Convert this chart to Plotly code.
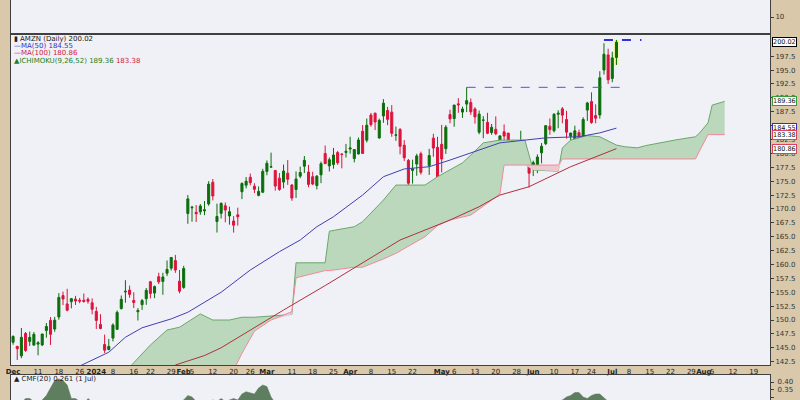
import pandas as pd
import plotly.graph_objects as go

# ---------------- calendar ----------------
HOLIDAYS = ['2023-12-25', '2024-01-01', '2024-01-15', '2024-02-19', '2024-03-29',
            '2024-05-27', '2024-06-19', '2024-07-04']
DATES = [d.strftime('%Y-%m-%d') for d in pd.bdate_range('2023-12-01', '2024-08-23')
         if d.strftime('%Y-%m-%d') not in HOLIDAYS]

# ---------------- price data (AMZN daily, Dec 1 2023 - Jul 2 2024) ----------------
OPEN = [146.00,145.25,143.55,147.58,146.15,145.48,145.66,145.52,148.12,149.93,148.38,150.56,154.40,152.90,153.30,153.77,153.56,153.56,153.72,153.10,
        151.54,149.20,145.59,144.69,146.74,148.33,152.06,155.04,155.39,153.53,151.49,152.77,153.83,156.89,154.85,157.80,156.95,158.42,159.34,160.70,157.00,
        155.87,169.19,170.20,169.39,169.48,169.65,170.90,174.80,167.73,169.21,170.58,168.74,167.83,168.94,173.10,174.28,175.70,174.08,172.44,173.01,
        176.75,177.53,176.93,175.54,174.83,176.44,174.31,173.50,175.90,177.69,176.64,175.80,174.22,176.14,179.99,177.75,178.01,180.15,179.88,180.17,
        180.79,179.07,179.90,184.00,182.38,186.90,187.24,182.77,186.74,187.72,187.43,183.27,184.31,181.47,178.74,176.94,178.08,179.94,169.68,177.80,182.75,181.09,
        181.64,180.85,186.99,186.28,188.92,187.44,188.88,189.16,188.00,183.82,185.97,185.60,183.76,184.34,182.30,183.88,183.66,181.65,179.93,181.70,181.31,178.30,
        177.70,177.64,180.10,181.75,184.90,184.07,187.06,188.02,186.09,183.08,182.52,183.74,182.91,187.80,189.33,186.81,186.92,195.01,197.73,
        193.49,197.28]
HIGH = [147.25,145.35,148.57,147.85,147.92,147.84,146.19,147.50,149.46,150.54,150.57,154.85,155.12,155.63,153.97,154.35,153.98,154.78,154.08,153.89,
        152.38,151.05,147.38,146.59,149.40,151.71,154.42,157.17,156.20,154.99,152.15,153.78,155.76,157.05,156.21,158.51,158.51,160.72,161.29,161.73,159.01,
        159.76,172.50,170.55,170.71,170.88,171.43,175.00,175.39,170.95,171.21,171.17,170.42,168.71,170.23,174.80,175.75,176.37,174.62,174.05,177.22,
        178.73,180.14,176.93,176.46,177.99,178.79,174.47,176.76,177.62,179.53,177.93,176.69,176.09,178.53,181.42,179.26,180.99,180.45,180.00,181.70,
        183.00,180.79,182.87,185.10,186.27,187.29,187.34,186.27,189.77,188.38,188.69,184.83,184.57,182.39,179.00,178.87,179.93,180.32,173.92,180.82,183.53,182.99,
        185.15,185.10,187.87,188.75,189.94,188.43,191.90,189.89,188.31,187.72,186.72,187.31,185.30,186.67,183.26,185.22,183.66,182.44,182.24,184.08,181.34,179.21,
        178.70,179.82,181.86,185.00,186.29,187.23,187.77,188.35,187.67,183.72,185.00,184.29,186.51,189.28,191.00,188.84,194.80,199.84,198.85,
        198.30,200.43]
LOW = [145.55,142.81,143.13,144.28,145.34,145.40,143.64,145.30,146.82,145.52,147.88,150.05,152.69,151.56,152.10,152.71,153.03,153.12,152.95,151.03,
       148.39,148.33,144.05,144.53,146.15,148.21,151.88,153.12,154.01,152.15,149.91,151.82,152.74,153.90,153.93,156.48,154.55,157.91,158.90,158.49,154.81,
       155.62,167.33,167.70,167.65,168.94,168.88,170.58,171.54,165.75,168.28,167.59,167.17,165.74,167.00,171.77,173.70,174.26,172.86,172.27,172.85,
       176.07,177.49,173.30,173.26,173.72,174.33,171.47,171.98,175.55,176.47,173.90,174.28,173.52,174.64,178.15,176.75,177.24,177.95,177.31,179.26,
       179.95,178.38,179.80,180.00,181.97,184.81,184.20,182.67,185.51,185.08,183.00,182.26,179.82,178.65,173.44,174.56,175.98,176.18,166.32,176.13,179.39,174.80,
       176.56,179.91,185.42,184.80,187.31,186.39,187.44,186.93,185.36,183.45,182.73,183.46,183.35,183.28,180.75,181.97,180.91,180.30,179.49,181.55,178.36,173.87,
       175.92,176.44,178.21,181.49,183.36,183.79,184.54,185.43,182.67,182.23,181.22,181.43,182.72,185.86,185.33,185.42,186.26,194.20,192.50,
       192.82,195.93]
CLOSE = [147.03,144.84,146.88,144.52,146.88,147.42,145.89,147.48,148.84,147.42,149.97,154.07,153.79,151.77,153.84,153.42,153.41,153.34,153.38,151.94,
         149.93,148.47,144.57,145.24,149.10,151.37,153.73,155.18,154.62,153.16,151.71,153.50,155.34,154.78,156.02,156.87,157.75,159.12,161.26,159.00,155.20,
         159.28,171.81,170.31,169.15,170.53,169.84,174.45,172.34,168.64,170.98,169.80,169.51,167.08,168.59,174.58,174.99,174.73,173.54,173.16,176.76,
         178.22,177.58,174.12,173.51,176.82,175.35,171.96,175.39,176.56,178.75,174.42,174.48,175.90,178.15,178.15,178.87,179.71,178.30,179.83,180.38,
         180.97,180.69,182.41,180.00,185.07,185.19,185.67,185.95,189.05,186.13,183.62,183.32,181.28,179.22,174.63,177.23,179.54,176.59,173.67,179.62,180.96,175.00,
         179.00,184.72,186.21,188.70,188.76,188.00,189.50,187.48,186.57,187.07,185.99,183.63,184.70,183.54,183.15,183.13,181.05,180.75,182.15,182.02,179.32,176.44,
         178.34,179.34,181.28,185.00,184.30,187.06,187.23,186.89,183.83,183.66,184.06,182.81,186.10,189.08,185.57,186.34,193.61,197.85,193.25,
         197.20,200.02]

# ---------------- overlays (trading-day index, value) ----------------
MA50_IDX = [14, 17, 19, 23, 27, 31, 38, 42, 50, 57, 64, 69, 73, 77, 84, 89, 94, 100, 105, 112, 117, 128, 136, 141, 145]
MA50_VAL = [141.0, 142.1, 142.8, 144.2, 146.9, 148.6, 150.2, 151.4, 155.0, 159.0, 162.3, 164.4, 166.8, 168.6, 172.5, 175.8, 177.2, 177.6, 178.8, 180.6, 181.9, 182.8, 183.0, 183.7, 184.55]
MA100_IDX = [39, 43, 46, 50, 57, 65, 75, 85, 93, 99, 105, 112, 117, 124, 134, 145]
MA100_VAL = [141.9, 142.8, 143.6, 145.0, 148.2, 151.8, 156.2, 160.8, 164.4, 166.2, 168.0, 170.4, 172.5, 174.0, 177.6, 180.86]

SPAN_IDX = [28, 33, 37, 40, 45, 48, 52, 53, 55, 58, 62, 67, 68, 75, 76, 82, 84, 89, 92, 99, 102, 105, 108, 110, 113, 117, 118, 123, 125, 131, 132, 134, 138, 141, 145, 147, 150, 152, 159, 164, 165, 167, 168, 171]
SPAN_A = [141.5, 145.5, 148.2, 148.7, 151.1, 150.0, 150.0, 150.2, 150.5, 150.5, 150.7, 151.0, 160.3, 160.3, 166.0, 166.8, 167.7, 171.6, 174.3, 174.3, 175.8, 177.0, 178.3, 179.7, 181.9, 182.4, 182.4, 182.4, 177.0, 176.8, 181.0, 182.4, 183.2, 183.0, 181.5, 181.2, 181.0, 181.4, 182.4, 183.0, 183.7, 185.5, 188.7, 189.36]
SPAN_B = [135.0, 135.0, 135.0, 136.0, 137.0, 138.0, 139.0, 141.0, 144.0, 148.0, 150.0, 151.5, 157.6, 158.9, 158.9, 159.5, 159.5, 161.0, 162.0, 165.0, 167.0, 168.0, 168.5, 168.9, 170.5, 172.7, 177.9, 177.9, 177.9, 177.9, 179.0, 179.0, 179.0, 179.0, 179.0, 179.0, 179.0, 179.0, 179.0, 179.0, 180.5, 183.38, 183.38, 183.38]

CMF = [0.20, 0.22, 0.26, 0.29, 0.29, 0.27, 0.25, 0.28, 0.31, 0.36, 0.41, 0.42, 0.41, 0.38, 0.29, 0.29, 0.27, 0.25, 0.29, 0.26,
       0.22, 0.20, 0.18, 0.18, 0.18, 0.18, 0.18, 0.18, 0.18, 0.18, 0.18, 0.18, 0.18, 0.18, 0.18, 0.18, 0.18, 0.20, 0.22, 0.24,
       0.26, 0.28, 0.31, 0.30, 0.27, 0.26, 0.26, 0.27, 0.28, 0.27, 0.29, 0.27, 0.28, 0.29, 0.28, 0.32, 0.335, 0.33, 0.32, 0.36,
       0.38, 0.37, 0.30, 0.26, 0.24, 0.22, 0.20, 0.18, 0.18, 0.18, 0.18, 0.18, 0.18, 0.18, 0.18, 0.18, 0.18, 0.18, 0.18, 0.18,
       0.18, 0.18, 0.18, 0.18, 0.18, 0.18, 0.18, 0.18, 0.18, 0.18, 0.18, 0.18, 0.18, 0.18, 0.18, 0.18, 0.18, 0.18, 0.18, 0.18,
       0.18, 0.18, 0.18, 0.18, 0.18, 0.18, 0.18, 0.18, 0.18, 0.18, 0.18, 0.18, 0.18, 0.18, 0.18, 0.18, 0.18, 0.18, 0.18, 0.18,
       0.18, 0.18, 0.18, 0.18, 0.18, 0.18, 0.20, 0.22, 0.24, 0.25, 0.26, 0.27, 0.28, 0.30, 0.31, 0.33, 0.33, 0.30, 0.29, 0.31,
       0.32, 0.32, 0.29, 0.27, 0.26, 0.261]

RESIST_1 = 191.9   # May 9 high
RESIST_2 = 200.43  # Jul 2 high

TICK_DATES = ['2023-12-01', '2023-12-11', '2023-12-18', '2023-12-26', '2024-01-02', '2024-01-08', '2024-01-16', '2024-01-22', '2024-01-29',
              '2024-02-01', '2024-02-05', '2024-02-12', '2024-02-20', '2024-02-26', '2024-03-01', '2024-03-11', '2024-03-18', '2024-03-25',
              '2024-04-01', '2024-04-08', '2024-04-15', '2024-04-22', '2024-05-01', '2024-05-06', '2024-05-13', '2024-05-20', '2024-05-28',
              '2024-06-03', '2024-06-10', '2024-06-17', '2024-06-24', '2024-07-01', '2024-07-08', '2024-07-15', '2024-07-22', '2024-07-29',
              '2024-08-01', '2024-08-05', '2024-08-12', '2024-08-19']
TICK_TEXT = ['<b>Dec</b>', '11', '18', '26', '<b>2024</b>', '8', '16', '22', '29', '<b>Feb</b>', '5', '12', '20', '26', '<b>Mar</b>', '11', '18', '25',
             '<b>Apr</b>', '8', '15', '22', '<b>May</b>', '6', '13', '20', '28', '<b>Jun</b>', '10', '17', '24', '<b>Jul</b>', '8', '15', '22', '29',
             '<b>Aug</b>', '5', '12', '19']
PRICE_TICKS = [142.5 + 2.5 * k for k in range(23)]

# ---------------- styling ----------------
TAN = '#d9c9aa'
BG = '#f0f0f7'
GREEN = '#0a6e0a'
RED = '#dc143c'
FONT = 'DejaVu Sans'

fig = go.Figure()

def d(ix):
    return [DATES[i] for i in ix]

fig.add_trace(go.Scatter(x=DATES, y=[None] * len(DATES), mode='lines', showlegend=False, hoverinfo='skip'))

fig.add_trace(go.Scatter(x=d(SPAN_IDX), y=SPAN_B, mode='lines', line=dict(color='rgba(0,0,0,0)', width=0), showlegend=False))
fig.add_trace(go.Scatter(x=d(SPAN_IDX), y=SPAN_A, mode='lines', line=dict(color='#6aa86a', width=1),
                         fill='tonexty', fillcolor='#bcd8bc', showlegend=False))
lowAB = [min(a, b) for a, b in zip(SPAN_A, SPAN_B)]
fig.add_trace(go.Scatter(x=d(SPAN_IDX), y=lowAB, mode='lines', line=dict(color='rgba(0,0,0,0)', width=0), showlegend=False))
fig.add_trace(go.Scatter(x=d(SPAN_IDX), y=SPAN_B, mode='lines', line=dict(color='#f08a9a', width=1),
                         fill='tonexty', fillcolor='#ecc8d0', showlegend=False))

fig.add_trace(go.Scatter(x=d(MA50_IDX), y=MA50_VAL, mode='lines', line=dict(color='#4040b0', width=1), showlegend=False))
fig.add_trace(go.Scatter(x=d(MA100_IDX), y=MA100_VAL, mode='lines', line=dict(color='#b0303c', width=1), showlegend=False))

n = len(CLOSE)
fig.add_trace(go.Scatter(x=[DATES[109], DATES[147]], y=[RESIST_1, RESIST_1], mode='lines',
                         line=dict(color='#5050f0', width=1, dash='dash'), showlegend=False))
fig.add_trace(go.Scatter(x=[DATES[142], DATES[151]], y=[RESIST_2, RESIST_2], mode='lines',
                         line=dict(color='#3030e0', width=2, dash='dash'), showlegend=False))

fig.add_trace(go.Candlestick(x=DATES[:n], open=OPEN, high=HIGH, low=LOW, close=CLOSE,
                             increasing=dict(line=dict(color=GREEN, width=1), fillcolor=GREEN),
                             decreasing=dict(line=dict(color=RED, width=1), fillcolor=RED),
                             showlegend=False))

fig.add_trace(go.Scatter(x=[DATES[0]], y=[None], xaxis='x2', yaxis='y2', showlegend=False))
fig.add_trace(go.Scatter(x=DATES[:n], y=CMF, xaxis='x3', yaxis='y3', mode='lines', line=dict(color='#5a785a', width=0.5),
                         fill='tozeroy', fillcolor='#5f7d5f', showlegend=False))

fig.add_shape(type='rect', xref='x', yref='y', x0=n - 1.45, x1=n - 0.55, y0=LOW[-1], y1=HIGH[-1],
              fillcolor='rgba(255,255,0,0.75)', line=dict(width=0), layer='below')

xr = [-0.5, 181.9]
axis_common = dict(showgrid=False, zeroline=False, linecolor='#404040', showline=True, mirror=True, automargin=False)
fig.update_layout(
    width=800, height=400, margin=dict(l=11, r=30, t=0, b=0, autoexpand=False),
    paper_bgcolor=TAN, plot_bgcolor=BG, font=dict(family=FONT, size=7, color='#222'),
    xaxis=dict(domain=[0, 1], anchor='y', type='category', categoryorder='array', categoryarray=DATES,
               range=xr, tickvals=TICK_DATES, ticktext=TICK_TEXT, tickfont=dict(size=7, color='#222'), tickangle=0,
               ticks='', rangeslider=dict(visible=False), **axis_common),
    yaxis=dict(domain=[0.0875, 0.915], anchor='x', side='right', range=[141.9, 201.5], tickvals=PRICE_TICKS,
               ticktext=['%.1f' % v for v in PRICE_TICKS], ticks='outside', ticklen=3, tickcolor='#404040',
               tickfont=dict(size=7, color='#333'), **axis_common),
    xaxis2=dict(domain=[0, 1], anchor='y2', matches='x', type='category', showticklabels=False, ticks='', **axis_common),
    yaxis2=dict(domain=[0.915, 1.0], anchor='x2', side='right', range=[0, 20], tickvals=[10], ticktext=['10'],
                ticks='outside', ticklen=3, tickcolor='#404040', tickfont=dict(size=7, color='#333'), **axis_common),
    xaxis3=dict(domain=[0, 1], anchor='y3', matches='x', type='category', showticklabels=False, ticks='', **axis_common),
    yaxis3=dict(domain=[0, 0.0625], anchor='x3', side='right', range=[0.28, 0.447], tickvals=[0.30, 0.35, 0.40],
                ticktext=[' 0.30', ' 0.35', ' 0.40'], ticks='outside', ticklen=3, tickcolor='#404040',
                tickfont=dict(size=7, color='#333'), **axis_common),
)

def px2paper(xp, yp):
    return (xp - 11) / 759.0, 1 - yp / 400.0

legend = [
    (39, '<span style="color:#222">▮ AMZN (Daily) %.2f</span>' % CLOSE[-1]),
    (46, '<span style="color:#3030c0">—MA(50) %.2f</span>' % MA50_VAL[-1]),
    (53, '<span style="color:#d02040">—MA(100) %.2f</span>' % MA100_VAL[-1]),
    (61, '<span style="color:#208020">▲ICHIMOKU(9,26,52) %.2f</span> <span style="color:#d02040">%.2f</span>' % (SPAN_A[-1], SPAN_B[-1])),
]
for yp, txt in legend:
    xx, yy = px2paper(12, yp)
    fig.add_annotation(xref='paper', yref='paper', x=xx, y=yy, xanchor='left', yanchor='middle', text=txt,
                       showarrow=False, font=dict(size=7, family=FONT))

xx, yy = px2paper(12, 379)
fig.add_annotation(xref='paper', yref='paper', x=xx, y=yy, xanchor='left', yanchor='middle',
                   text='▲ CMF(20) %.3f (1 Jul)' % CMF[-1], showarrow=False, font=dict(size=7, family=FONT, color='#222'))

tags = [(CLOSE[-1], '#000000'), (SPAN_A[-1], '#3a9a3a'), (MA50_VAL[-1], '#3030c0'), (SPAN_B[-1], '#e04060'), (MA100_VAL[-1], '#e04060')]
for v, col in tags:
    fig.add_annotation(xref='paper', yref='y', x=1, y=v, xanchor='left', yanchor='middle', xshift=2,
                       text='%.2f' % v, showarrow=False, bgcolor='white', bordercolor=col, borderwidth=1, borderpad=0,
                       font=dict(size=6.5, family=FONT, color='#111'))

fig.write_html('out.html', config={'displayModeBar': False},
               post_script="document.body.style.margin='0';document.body.style.overflow='hidden';")
